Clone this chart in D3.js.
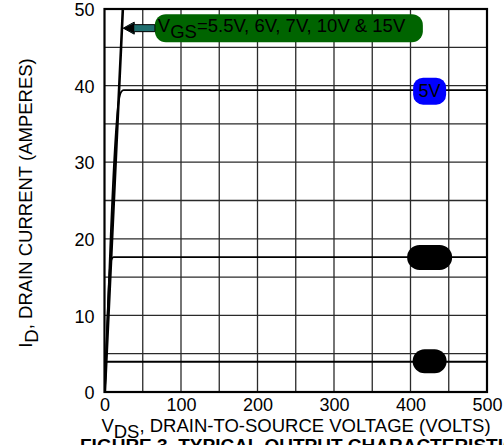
<!DOCTYPE html>
<html><head><meta charset="utf-8">
<script src="https://cdn.jsdelivr.net/npm/d3@7"></script>
<style>
html,body{margin:0;padding:0;background:#fff;}
svg{display:block;}
text{font-family:"Liberation Sans",Arial,Helvetica,sans-serif;}
</style></head><body>
<svg id="c" width="504" height="445"></svg>
<script>
// ---- data ----
const xTicks = [0,100,200,300,400,500];
const yTicks = [0,10,20,30,40,50];
const xGrid = [50,100,150,200,250,300,350,400,450];
const yGrid = [5,10,15,20,25,30,35,40,45];
// curves: [V_DS, I_D]
const curveHigh = [[0.5,0],[24,50],[25,52]];          // VGS = 5.5V .. 15V
const curve5V   = [[0.5,0],[19,38.2],[22,39.2],[25,39.4],[500,39.4]];
const curve4p5  = [[0.5,0],[7.5,16.6],[9.5,17.4],[12,17.6],[500,17.6]];
const curve4    = [[0.5,0],[1.5,3.4],[2.8,3.9],[4,3.95],[500,3.95]];
const labelHigh = {v:241, i:47.5};
const label5V   = {v:425, i:39.4};
const labelB1   = {v:425, i:17.5};
const labelB2   = {v:425, i:4.0};

const svg = d3.select("#c");
const x = d3.scaleLinear().domain([0,500]).range([104.5,487]);
const y = d3.scaleLinear().domain([0,50]).range([392,9]);

// grid
svg.append("g").selectAll("line").data(xGrid).join("line")
  .attr("x1",d=>x(d)).attr("x2",d=>x(d)).attr("y1",y(0)).attr("y2",y(50))
  .attr("stroke","#2a2a2a").attr("stroke-width",1.3);
svg.append("g").selectAll("line").data(yGrid).join("line")
  .attr("y1",d=>y(d)).attr("y2",d=>y(d)).attr("x1",x(0)).attr("x2",x(500))
  .attr("stroke","#2a2a2a").attr("stroke-width",1.3);

// clip
svg.append("clipPath").attr("id","clp").append("rect")
  .attr("x",x(0)).attr("y",y(50)).attr("width",x(500)-x(0)).attr("height",y(0)-y(50));

const line = d3.line().x(d=>x(d[0])).y(d=>y(d[1])).curve(d3.curveMonotoneX);
const lineL = d3.line().x(d=>x(d[0])).y(d=>y(d[1]));
const cg = svg.append("g").attr("clip-path","url(#clp)");
[curve4,curve4p5,curve5V].forEach(c=>{
  cg.append("path").attr("d",line(c)).attr("fill","none").attr("stroke","#000").attr("stroke-width",1.8);
});
cg.append("path").attr("d",lineL(curveHigh)).attr("fill","none").attr("stroke","#000").attr("stroke-width",2.6);

// frame
svg.append("rect").attr("x",x(0)).attr("y",y(50)).attr("width",x(500)-x(0)).attr("height",y(0)-y(50))
  .attr("fill","none").attr("stroke","#000").attr("stroke-width",2.2);

// axes (labels only)
const ax = svg.append("g").attr("transform",`translate(0,${y(0)})`)
  .call(d3.axisBottom(x).tickValues(xTicks).tickSize(0).tickPadding(6));
ax.select(".domain").remove();
ax.selectAll("text").attr("font-size",18).attr("fill","#000").attr("font-family","Liberation Sans, Arial, sans-serif");
const ay = svg.append("g").attr("transform",`translate(${x(0)},1)`)
  .call(d3.axisLeft(y).tickValues(yTicks).tickSize(0).tickPadding(10));
ay.select(".domain").remove();
ay.selectAll("text").attr("font-size",18).attr("fill","#000").attr("font-family","Liberation Sans, Arial, sans-serif");

// axis titles
const xt = svg.append("text").attr("x",296).attr("y",432).attr("text-anchor","middle").attr("font-size",18.5);
xt.append("tspan").text("V");
xt.append("tspan").attr("dy",6).text("DS");
xt.append("tspan").attr("dy",-6).text(", DRAIN-TO-SOURCE VOLTAGE (VOLTS)");

const yt = svg.append("text").attr("transform","translate(32,203) rotate(-90)").attr("text-anchor","middle").attr("font-size",18.5);
yt.append("tspan").text("I");
yt.append("tspan").attr("dy",6).text("D");
yt.append("tspan").attr("dy",-6).text(", DRAIN CURRENT (AMPERES)");

svg.append("text").attr("x",80).attr("y",452).attr("font-size",19).attr("font-weight","bold")
  .text("FIGURE 3. TYPICAL OUTPUT CHARACTERISTICS");

// label for high VGS
const lw = 268, lh = 28;
svg.append("rect").attr("x",x(labelHigh.v)-lw/2).attr("y",y(labelHigh.i)-lh/2).attr("width",lw).attr("height",lh)
  .attr("rx",11).attr("fill","#006400");
const lt = svg.append("text").attr("x",x(labelHigh.v)-lw/2+3).attr("y",y(labelHigh.i)+4).attr("font-size",18.5).attr("fill","#000");
lt.append("tspan").text("V");
lt.append("tspan").attr("dy",6).text("GS");
lt.append("tspan").attr("dy",-6).text("=5.5V, 6V, 7V, 10V & 15V");
// arrow
const ay0 = y(labelHigh.i);
const ax0 = x(labelHigh.v)-lw/2, ax1 = x(24.5);
svg.append("path")
  .attr("d",`M${ax0},${ay0-3.5} L${ax1+11},${ay0-3.5} L${ax1+11},${ay0-6} L${ax1},${ay0} L${ax1+11},${ay0+6} L${ax1+11},${ay0+3.5} L${ax0},${ay0+3.5}Z`)
  .attr("fill","#1f6e6e").attr("stroke","#000").attr("stroke-width",1);
svg.append("path").attr("d",`M${ax1},${ay0} L${ax1+11},${ay0-5} L${ax1+11},${ay0+5}Z`).attr("fill","#000");

// 5V pill
svg.append("rect").attr("x",x(label5V.v)-16.5).attr("y",y(label5V.i)-12.5).attr("width",33).attr("height",27)
  .attr("rx",10).attr("fill","#0000ff");
svg.append("text").attr("x",x(label5V.v)).attr("y",y(label5V.i)+7).attr("text-anchor","middle").attr("font-size",18).attr("fill","#000").text("5V");

// black pills
svg.append("rect").attr("x",x(labelB1.v)-22.5).attr("y",y(labelB1.i)-13).attr("width",45).attr("height",25)
  .attr("rx",12.5).attr("fill","#000");
svg.append("rect").attr("x",x(labelB2.v)-17).attr("y",y(labelB2.i)-12).attr("width",34).attr("height",24)
  .attr("rx",12).attr("fill","#000");
</script>
</body></html>
